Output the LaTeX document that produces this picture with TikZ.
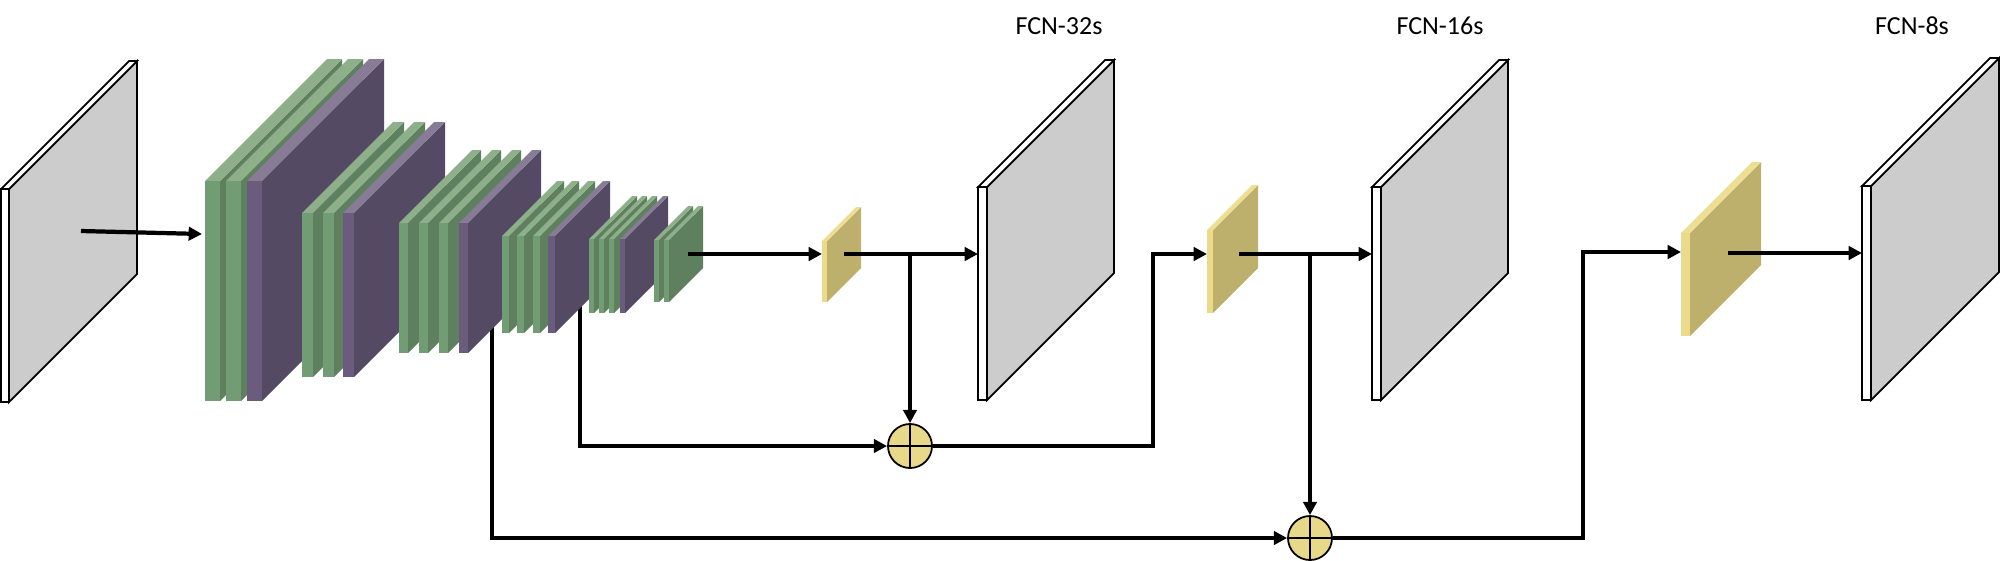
\documentclass[tikz,border=0pt]{standalone}
\usepackage{fontspec}
\setmainfont{Carlito}
\usetikzlibrary{arrows.meta}
\definecolor{gfront}{HTML}{729D74}
\definecolor{gside}{HTML}{5E805E}
\definecolor{gtop}{HTML}{8DB08B}
\definecolor{pfront}{HTML}{6B5B7D}
\definecolor{pside}{HTML}{544A63}
\definecolor{ptop}{HTML}{877B96}
\definecolor{yfront}{HTML}{EADA8A}
\definecolor{yside}{HTML}{BCB06C}
\definecolor{ytop}{HTML}{EEDE92}
\definecolor{sumfill}{HTML}{E8D98A}
\definecolor{plategray}{HTML}{CCCCCC}
\newcommand\slab[8]{%
 \fill[#6] (#1+#3,#2) -- ++(#5,-#5) -- ++(0,#4) -- ++(-#5,#5) -- cycle;
 \fill[#7] (#1,#2) -- ++(#5,-#5) -- ++(#3,0) -- ++(-#5,#5) -- cycle;
 \fill[#8] (#1,#2) rectangle ++(#3,#4);}
\newcommand\gslab[5]{\slab{#1}{#2}{#3}{#4}{#5}{gside}{gtop}{gfront}}
\newcommand\pslab[5]{\slab{#1}{#2}{#3}{#4}{#5}{pside}{ptop}{pfront}}
\newcommand\yslab[5]{\slab{#1}{#2}{#3}{#4}{#5}{yside}{ytop}{yfront}}
\newcommand\plate[5]{%
 \filldraw[platefill] (#1+#3,#2) -- ++(#5,-#5) -- ++(0,#4) -- ++(-#5,#5) -- cycle;
 \filldraw[plateedge] (#1,#2) -- ++(#5,-#5) -- ++(#3,0) -- ++(-#5,#5) -- cycle;
 \filldraw[plateedge] (#1,#2) rectangle ++(#3,#4);}
\tikzset{
 platefill/.style={fill=plategray, draw=black, line width=0.5pt},
 plateedge/.style={fill=white, draw=black, line width=0.5pt},
 conn/.style={line width=1.2pt, -{Triangle[length=3.8pt,width=3.8pt]}},
 sumnode/.style={circle, draw=black, line width=0.5pt, fill=sumfill, minimum size=0.44cm, inner sep=0pt},
 lbl/.style={font=\fontsize{7.4pt}{9pt}\selectfont, anchor=base, inner sep=0pt}
}
\begin{document}
\begin{tikzpicture}[x=0.01cm, y=-0.01cm]
\useasboundingbox (0,0) rectangle (2000,560);
% named points
\coordinate (a0s) at (81,231);
\coordinate (s1in) at (202,234);
\coordinate (s6out) at (688,254);
\coordinate (y1in) at (822,254);
\coordinate (y1out) at (844,254);
\coordinate (j1) at (910,254);
\coordinate (p1in) at (978,254);
\coordinate (l1s) at (580,300);
\coordinate (l2s) at (492,320);
\coordinate (k1) at (1153,254);
\coordinate (y2in) at (1207,254);
\coordinate (y2out) at (1239,254);
\coordinate (j2) at (1310,254);
\coordinate (p2in) at (1372,254);
\coordinate (k2) at (1583,252);
\coordinate (y3in) at (1681,252);
\coordinate (y3out) at (1728,253);
\coordinate (p3in) at (1862,253);
% sum nodes
\node[sumnode] (c1) at (910,446) {};
\draw[line width=0.5pt] (c1.north) -- (c1.south) (c1.west) -- (c1.east);
\node[sumnode] (c2) at (1310,538) {};
\draw[line width=0.5pt] (c2.north) -- (c2.south) (c2.west) -- (c2.east);
% skip connections (behind the stacks)
\draw[conn] (l1s) |- (c1);
\draw[conn] (l2s) |- (c2);
% input image
\plate{1}{189}{8}{213}{128}
% stack 1
\gslab{205}{181}{15}{220}{122}
\gslab{226}{181}{15}{220}{122}
\pslab{247}{181}{15}{220}{122}
% stack 2
\gslab{302}{213}{11}{164}{91}
\gslab{323}{213}{11}{164}{91}
\pslab{343}{213}{11}{164}{91}
% stack 3
\gslab{399}{223}{9}{130}{73}
\gslab{419}{223}{9}{130}{73}
\gslab{439}{223}{9}{130}{73}
\pslab{459}{223}{9}{130}{73}
% stack 4
\gslab{502}{236}{7}{97}{55}
\gslab{517}{236}{7}{97}{55}
\gslab{533}{236}{7}{97}{55}
\pslab{548}{236}{7}{97}{55}
% stack 5
\gslab{589}{239}{5}{74}{43}
\gslab{599}{239}{5}{74}{43}
\gslab{609}{239}{5}{74}{43}
\pslab{620}{239}{5}{74}{43}
% stack 6
\gslab{654}{240}{5}{62}{34}
\gslab{664}{240}{5}{62}{34}
% upsampling layers
\yslab{822}{241}{5}{61}{34}
\yslab{1207}{230}{6}{83}{45}
\yslab{1681}{233}{9}{103}{71}
% outputs
\plate{978}{187}{9}{213}{127}
\plate{1372}{187}{9}{213}{127}
\plate{1862}{186}{9}{214}{128}
% labels
\node[lbl] (t1) at (1059,34) {FCN-32s};
\node[lbl] (t2) at (1440,34) {FCN-16s};
\node[lbl] (t3) at (1912,34) {FCN-8s};
% connectors
\draw[conn] (a0s) -- (s1in);
\draw[conn] (s6out) -- (y1in);
\draw[conn] (y1out) -- (p1in);
\draw[conn] (j1) -- (c1);
\draw[conn] (c1) -| (k1) -- (y2in);
\draw[conn] (y2out) -- (p2in);
\draw[conn] (j2) -- (c2);
\draw[conn] (c2) -| (k2) -- (y3in);
\draw[conn] (y3out) -- (p3in);
\end{tikzpicture}
\end{document}
